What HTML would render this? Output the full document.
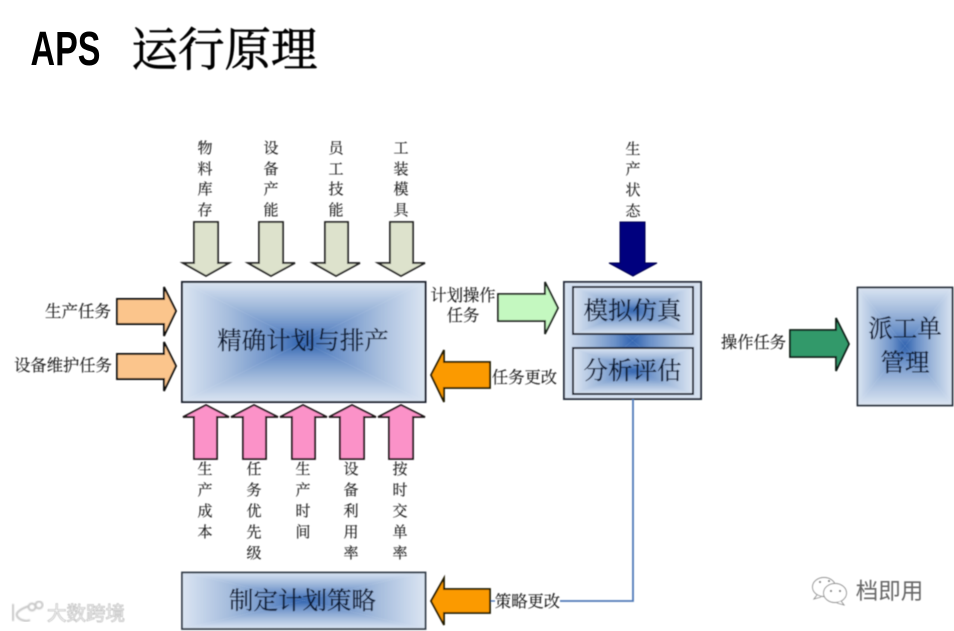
<!DOCTYPE html>
<html><head><meta charset="utf-8">
<style>
html,body{margin:0;padding:0;background:#fff;width:954px;height:631px;overflow:hidden}
svg{display:block}
text{font-family:"Liberation Serif","Noto Serif CJK SC",serif;text-anchor:middle}
.l{font-size:15.5px;fill:#1e1e1e;stroke:#1e1e1e;stroke-width:.15}
.v{font-size:15px;fill:#1e1e1e;stroke:#1e1e1e;stroke-width:.15}
.m{font-size:24.5px;fill:#101c36;stroke:#101c36;stroke-width:.3}
</style></head><body>
<svg width="954" height="631" viewBox="0 0 954 631" xmlns="http://www.w3.org/2000/svg">
<defs>
<linearGradient id="gt" x1="0" y1="0" x2="0" y2="1"><stop offset="0" stop-color="#dbe5f2"/><stop offset=".4" stop-color="#a3bbdc"/><stop offset=".75" stop-color="#6a90c8"/><stop offset="1" stop-color="#2f62ae"/></linearGradient>
<linearGradient id="gb" x1="0" y1="1" x2="0" y2="0"><stop offset="0" stop-color="#dbe5f2"/><stop offset=".4" stop-color="#a3bbdc"/><stop offset=".75" stop-color="#6a90c8"/><stop offset="1" stop-color="#2f62ae"/></linearGradient>
<linearGradient id="gl" x1="0" y1="0" x2="1" y2="0"><stop offset="0" stop-color="#dbe5f2"/><stop offset=".4" stop-color="#a3bbdc"/><stop offset=".75" stop-color="#6a90c8"/><stop offset="1" stop-color="#2f62ae"/></linearGradient>
<linearGradient id="gr" x1="1" y1="0" x2="0" y2="0"><stop offset="0" stop-color="#dbe5f2"/><stop offset=".4" stop-color="#a3bbdc"/><stop offset=".75" stop-color="#6a90c8"/><stop offset="1" stop-color="#2f62ae"/></linearGradient>
<filter id="b" x="-5%" y="-5%" width="110%" height="110%"><feGaussianBlur stdDeviation=".45"/></filter>
<filter id="b2" x="-5%" y="-5%" width="110%" height="110%"><feGaussianBlur stdDeviation=".8"/></filter>
</defs>

<text x="65.5" y="65" font-size="48" font-weight="700" textLength="70" lengthAdjust="spacingAndGlyphs" style="font-family:'Liberation Sans','Liberation Mono',sans-serif" fill="#000">APS</text>
<text x="224.5" y="66" font-size="46.5" fill="#000" stroke="#000" stroke-width=".7" filter="url(#b)">运行原理</text>

<g filter="url(#b)">
<!-- main box -->
<polygon points="182,282 425,282 303.5,342" fill="url(#gt)"/>
<polygon points="182,402 425,402 303.5,342" fill="url(#gb)"/>
<polygon points="182,282 182,402 303.5,342" fill="url(#gl)"/>
<polygon points="425,282 425,402 303.5,342" fill="url(#gr)"/>
<rect x="182" y="282" width="243.5" height="120" fill="none" stroke="#1c2430" stroke-width="2"/>

<!-- strategy box -->
<polygon points="182,572 425,572 303.5,600.5" fill="url(#gt)"/>
<polygon points="182,629 425,629 303.5,600.5" fill="url(#gb)"/>
<polygon points="182,572 182,629 303.5,600.5" fill="url(#gl)"/>
<polygon points="425,572 425,629 303.5,600.5" fill="url(#gr)"/>
<rect x="182" y="572.5" width="243.5" height="56.5" fill="none" stroke="#333c4a" stroke-width="1.8"/>

<!-- simulation box -->
<polygon points="564,282 701,282 632.5,340.5" fill="url(#gt)"/>
<polygon points="564,399 701,399 632.5,340.5" fill="url(#gb)"/>
<polygon points="564,282 564,399 632.5,340.5" fill="url(#gl)"/>
<polygon points="701,282 701,399 632.5,340.5" fill="url(#gr)"/>
<rect x="564" y="282" width="137" height="117" fill="none" stroke="#2a3340" stroke-width="2"/>
<polygon points="573,287 693,287 633,310.5" fill="url(#gt)"/>
<polygon points="573,334 693,334 633,310.5" fill="url(#gb)"/>
<polygon points="573,287 573,334 633,310.5" fill="url(#gl)"/>
<polygon points="693,287 693,334 633,310.5" fill="url(#gr)"/>
<rect x="573" y="287" width="120" height="47" fill="none" stroke="#1c2430" stroke-width="2"/>
<polygon points="573,348 693,348 633,371" fill="url(#gt)"/>
<polygon points="573,394 693,394 633,371" fill="url(#gb)"/>
<polygon points="573,348 573,394 633,371" fill="url(#gl)"/>
<polygon points="693,348 693,394 633,371" fill="url(#gr)"/>
<rect x="573" y="348" width="120" height="46" fill="none" stroke="#1c2430" stroke-width="2"/>

<!-- dispatch box -->
<polygon points="857,287 953,287 905,346" fill="url(#gt)"/>
<polygon points="857,405 953,405 905,346" fill="url(#gb)"/>
<polygon points="857,287 857,405 905,346" fill="url(#gl)"/>
<polygon points="953,287 953,405 905,346" fill="url(#gr)"/>
<rect x="857.5" y="287.5" width="95" height="118" fill="none" stroke="#262e3a" stroke-width="1.8"/>

<!-- connector -->
<polyline points="633,399 633,601 560,601" fill="none" stroke="#4f7ab8" stroke-width="1.8"/>
<line x1="490" y1="601" x2="495" y2="601" stroke="#4f7ab8" stroke-width="1.4"/>

<!-- top input arrows -->
<g fill="#dde2cc" stroke="#222220" stroke-width="1.8">
<polygon points="194,222 218,222 218,263 229,263 206,276 183,263 194,263"/>
<polygon points="259,222 283,222 283,263 295,263 271,276 248,263 259,263"/>
<polygon points="325,222 348,222 348,263 360,263 336,276 313,263 325,263"/>
<polygon points="390,222 413,222 413,263 425,263 401,276 378,263 390,263"/>
</g>

<!-- left arrows -->
<g fill="#fbc58c" stroke="#0c0c08" stroke-width="1.9">
<polygon points="117,299 164,299 164,287 176,311 164,336 164,324 117,324"/>
<polygon points="117,354 164,354 164,342 176,366 164,391 164,379 117,379"/>
</g>

<!-- bottom pink arrows -->
<g fill="#fb92c8" stroke="#1c1418" stroke-width="1.8">
<polygon points="194,459 217,459 217,417 229,417 206,405 183,417 194,417"/>
<polygon points="243,459 266,459 266,417 278,417 254,405 231,417 243,417"/>
<polygon points="292,459 315,459 315,417 327,417 303,405 280,417 292,417"/>
<polygon points="340,459 364,459 364,417 376,417 352,405 329,417 340,417"/>
<polygon points="389,459 413,459 413,417 425,417 401,405 378,417 389,417"/>
</g>

<!-- right side arrows -->
<polygon points="498,294 545,294 545,282 558,308 545,334 545,321 498,321" fill="#c4f8c0" stroke="#1a241a" stroke-width="1.8"/>
<polygon points="490,362 444,362 444,350 431,375 444,402 444,388 490,388" fill="#fb9a05" stroke="#241a06" stroke-width="1.8"/>
<polygon points="490,589 444,589 444,578 431,601 444,625 444,613 490,613" fill="#fb9a05" stroke="#241a06" stroke-width="1.8"/>
<polygon points="790,330 836,330 836,318 849,344 836,371 836,357 790,357" fill="#33996a" stroke="#101a14" stroke-width="1.8"/>
<polygon points="620,222 645,222 645,263 657,263 633,276 609,263 620,263" fill="#04047e" stroke="#04044e" stroke-width="1"/>

<!-- top vertical labels -->
<text class="v"><tspan x="205" y="153">物</tspan><tspan x="205" y="174">料</tspan><tspan x="205" y="194">库</tspan><tspan x="205" y="215">存</tspan></text>
<text class="v"><tspan x="271" y="153">设</tspan><tspan x="271" y="174">备</tspan><tspan x="271" y="194">产</tspan><tspan x="271" y="215">能</tspan></text>
<text class="v"><tspan x="336" y="153">员</tspan><tspan x="336" y="174">工</tspan><tspan x="336" y="194">技</tspan><tspan x="336" y="215">能</tspan></text>
<text class="v"><tspan x="401" y="153">工</tspan><tspan x="401" y="174">装</tspan><tspan x="401" y="194">模</tspan><tspan x="401" y="215">具</tspan></text>
<text class="v"><tspan x="633" y="154">生</tspan><tspan x="633" y="174">产</tspan><tspan x="633" y="195">状</tspan><tspan x="633" y="216">态</tspan></text>

<!-- bottom vertical labels -->
<text class="v"><tspan x="205" y="474">生</tspan><tspan x="205" y="495">产</tspan><tspan x="205" y="516">成</tspan><tspan x="205" y="537">本</tspan></text>
<text class="v"><tspan x="254" y="474">任</tspan><tspan x="254" y="495">务</tspan><tspan x="254" y="516">优</tspan><tspan x="254" y="537">先</tspan><tspan x="254" y="558">级</tspan></text>
<text class="v"><tspan x="303" y="474">生</tspan><tspan x="303" y="495">产</tspan><tspan x="303" y="516">时</tspan><tspan x="303" y="537">间</tspan></text>
<text class="v"><tspan x="351" y="474">设</tspan><tspan x="351" y="495">备</tspan><tspan x="351" y="516">利</tspan><tspan x="351" y="537">用</tspan><tspan x="351" y="558">率</tspan></text>
<text class="v"><tspan x="400" y="474">按</tspan><tspan x="400" y="495">时</tspan><tspan x="400" y="516">交</tspan><tspan x="400" y="537">单</tspan><tspan x="400" y="558">率</tspan></text>

<!-- side labels -->
<text class="l" x="78" y="317" style="font-size:16.5px">生产任务</text>
<text class="l" x="63" y="371" style="font-size:16.3px">设备维护任务</text>
<text class="l" x="463" y="301" style="font-size:16.3px">计划操作</text>
<text class="l" x="463" y="321" style="font-size:16.3px">任务</text>
<text class="l" x="524.5" y="383" style="font-size:16.3px">任务更改</text>
<text class="l" x="527.5" y="607" style="font-size:16.3px">策略更改</text>
<text class="l" x="753.5" y="348" style="font-size:16.3px">操作任务</text>

<!-- box labels -->
<text class="m" x="303" y="349">精确计划与排产</text>
<text class="m" x="632.5" y="319">模拟仿真</text>
<text class="m" x="632.5" y="379">分析评估</text>
<text class="m" x="905" y="337">派工单</text>
<text class="m" x="905" y="371">管理</text>
<text class="m" x="302.5" y="609">制定计划策略</text>
</g>

<!-- wechat watermark -->
<g fill="#fff" stroke="#8a8a8a" stroke-width=".9" filter="url(#b)">
<ellipse cx="824" cy="587" rx="11.5" ry="9.5"/>
<path d="M817 595l-3 4 7-2" />
<ellipse cx="835" cy="593" rx="11.5" ry="9.5"/>
<path d="M841 601l3 4-7-2"/>
</g>
<g fill="#777" filter="url(#b)">
<circle cx="820" cy="582" r="1"/><circle cx="829" cy="581" r="1"/>
<circle cx="831" cy="591" r="1"/><circle cx="840" cy="591" r="1"/>
</g>
<text x="889.5" y="599" font-size="22.5" fill="#666" style="font-family:'Liberation Sans','Noto Sans CJK SC',sans-serif" filter="url(#b)">档即用</text>

<!-- logo watermark -->
<g filter="url(#b2)" fill="none" stroke="#c8c8c8" stroke-width="2">
<path d="M13 604v17M29 606c-6 2-14 6-12 10s9 6 13 4"/>
<circle cx="32" cy="607" r="3.5"/><circle cx="39" cy="605" r="3.5"/>
</g>
<text x="86" y="620" font-size="19.5" fill="#fff" stroke="#c4c4c4" stroke-width=".8" style="font-family:'Liberation Sans','Noto Sans CJK SC',sans-serif" filter="url(#b)">大数跨境</text>
</svg>
</body></html>
